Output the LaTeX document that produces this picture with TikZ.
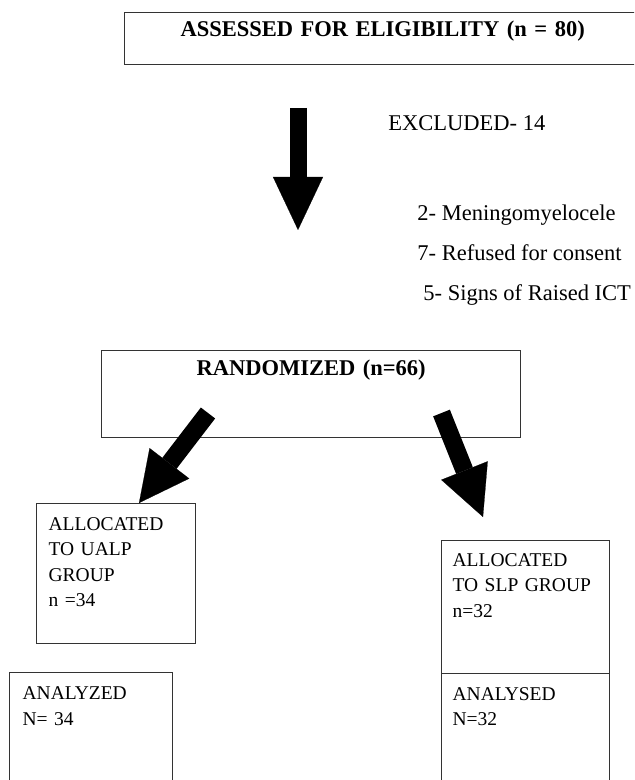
\documentclass[tikz,border=0pt]{standalone}
\usepackage{fontspec}
\setmainfont{Liberation Serif}
\usetikzlibrary{arrows.meta, positioning}

\begin{document}
\begin{tikzpicture}[x=0.5pt, y=-0.5pt,
    bx/.style={draw=black!80, line width=0.6pt, anchor=north west, align=left,
               font=\fontsize{9.75}{12.75}\selectfont, text height=6.5pt},
    hdr/.style={draw=black!80, line width=0.6pt, anchor=north west,
                font=\fontsize{11.25}{13.5}\selectfont\bfseries, text height=7.5pt},
    note/.style={anchor=base west, inner sep=0pt, font=\fontsize{11.25}{13.5}\selectfont},
    arr/.style={-{Triangle[length=25pt, width=25pt, line width=0.1pt]}, line width=9pt},
]
    \useasboundingbox (0,0) rectangle (634,780);
    \clip (0,0) rectangle (634,780);

    \node[hdr, align=left, text width=230pt, inner xsep=28pt, inner ysep=4.3pt,
          text depth=9.8pt] (elig) at (124,12) {ASSESSED FOR ELIGIBILITY (n = 80)};

    \node[note] (excl) at (388,130.5) {EXCLUDED- 14};
    \node[note] (ex1) at (417,220.5) {2- Meningomyelocele};
    \node[note] (ex2) at (417,260.5) {7- Refused for consent};
    \node[note] (ex3) at (423,300.5) {5- Signs of Raised ICT};

    \node[hdr, align=center, text width=209.5pt, inner xsep=0pt, inner ysep=4.75pt,
          text depth=26.5pt] (rand) at (101,350) {RANDOMIZED (n=66)};

    \node[bx, text width=67.5pt, inner xsep=6pt, inner ysep=6.75pt, text depth=50pt]
          (ualp) at (36,503) {ALLOCATED\\TO UALP\\GROUP\\n =34};
    \node[bx, text width=73pt, inner xsep=5.5pt, inner ysep=6.25pt, text depth=47.5pt]
          (slp) at (441,540) {ALLOCATED\\TO SLP GROUP\\n=32};
    \node[bx, text width=68.5pt, inner xsep=6.5pt, inner ysep=7pt, text depth=43.5pt]
          (anaU) at (9,672) {ANALYZED\\N= 34};
    \node[bx, text width=73pt, inner xsep=5.5pt, inner ysep=6.75pt, text depth=43.5pt]
          (anaS) at (441,673) {ANALYSED\\N=32};

    % block arrows
    \coordinate (dA) at (298,108);
    \coordinate (dB) at (298,230);
    \coordinate (lA) at (208,413);
    \coordinate (lB) at (139,503);
    \coordinate (rA) at (441.5,413);
    \coordinate (rB) at (483,517);

    \draw[arr, -{Triangle[length=26.5pt, width=25pt, line width=0.1pt]}, line width=8.5pt] (dA) -- (dB);
    \draw[arr] (lA) -- (lB);
    \draw[arr] (rA) -- (rB);
\end{tikzpicture}
\end{document}
